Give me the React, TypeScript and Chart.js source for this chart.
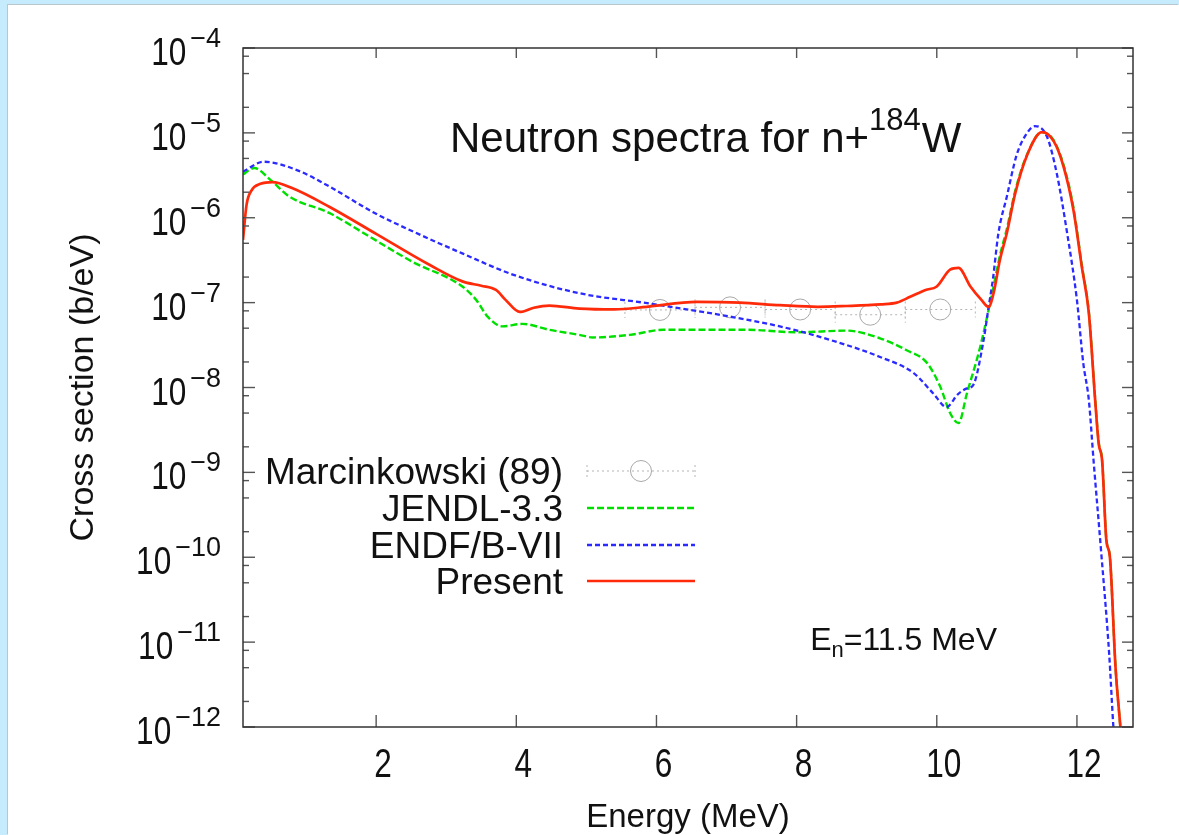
import React, { useEffect, useRef } from "react";
import { Chart, registerables } from "chart.js";

Chart.register(...registerables);

// ---------- data ----------
const presentE = [0.1, 0.15, 0.22, 0.35, 0.52, 0.8, 1.33, 2.0, 2.76, 3.23, 3.5, 3.71, 3.85, 4.05, 4.25, 4.47, 4.9, 5.4, 5.86, 6.57, 7.19, 7.76, 8.3, 8.71, 9.2, 9.43, 9.62, 9.84, 10.0, 10.19, 10.31, 10.48, 10.64, 10.74, 10.81, 10.9, 11.0, 11.12, 11.29, 11.5, 11.67, 11.81, 11.95, 12.07, 12.17, 12.26, 12.31, 12.36, 12.42, 12.47, 12.55, 12.62, 12.7];
const presentY = [5.5e-7, 1.41e-6, 2.09e-6, 2.51e-6, 2.63e-6, 2.24e-6, 1.35e-6, 6.46e-7, 2.79e-7, 1.78e-7, 1.58e-7, 1.41e-7, 1.07e-7, 7.76e-8, 8.71e-8, 9.23e-8, 8.51e-8, 8.32e-8, 8.91e-8, 1.02e-7, 1.0e-7, 9.33e-8, 8.91e-8, 9.12e-8, 9.55e-8, 1.0e-7, 1.17e-7, 1.41e-7, 1.55e-7, 2.45e-7, 2.57e-7, 1.55e-7, 1.07e-7, 8.91e-8, 1.29e-7, 3.16e-7, 6.61e-7, 1.95e-6, 5.5e-6, 1.02e-5, 7.94e-6, 3.98e-6, 1.23e-6, 2.63e-7, 7.5e-8, 7.08e-9, 2.19e-9, 1.35e-9, 1.58e-10, 1.01e-10, 5.13e-12, 1.0e-12, 1.58e-13];

const jendlE = [0.1, 0.26, 0.5, 0.76, 1.33, 1.9, 2.52, 3.23, 3.43, 3.59, 3.8, 4.09, 4.47, 4.9, 5.09, 5.62, 6.1, 7.29, 8.0, 8.71, 9.19, 9.57, 9.86, 10.05, 10.19, 10.31, 10.43, 10.62, 10.8, 10.9, 11.0, 11.12, 11.29, 11.5, 11.67, 11.81, 11.95, 12.07, 12.17, 12.26, 12.31, 12.36, 12.42, 12.47, 12.55, 12.62, 12.7];
const jendlY = [3.24e-6, 3.85e-6, 2.75e-6, 1.78e-6, 1.14e-6, 6.03e-7, 3.02e-7, 1.55e-7, 1.07e-7, 6.84e-8, 5.25e-8, 5.62e-8, 4.79e-8, 4.17e-8, 3.89e-8, 4.17e-8, 4.79e-8, 4.79e-8, 4.47e-8, 4.68e-8, 3.8e-8, 2.75e-8, 1.95e-8, 1.02e-8, 5.01e-9, 3.8e-9, 8.51e-9, 3.02e-8, 1.41e-7, 3.55e-7, 7.41e-7, 2.09e-6, 5.62e-6, 1.02e-5, 8.13e-6, 4.17e-6, 1.32e-6, 2.75e-7, 7.76e-8, 7.41e-9, 2.29e-9, 1.38e-9, 1.62e-10, 1.02e-10, 5.25e-12, 1.0e-12, 1.58e-13];

const endfE = [0.1, 0.4, 0.86, 1.33, 1.95, 2.52, 3.23, 3.95, 4.9, 5.9, 7.05, 7.76, 8.48, 9.19, 9.67, 9.95, 10.14, 10.3, 10.43, 10.52, 10.66, 10.74, 10.8, 10.88, 11.0, 11.14, 11.29, 11.4, 11.57, 11.71, 11.86, 12.0, 12.09, 12.17, 12.24, 12.34, 12.46, 12.52, 12.6];
const endfY = [3.51e-6, 4.57e-6, 3.67e-6, 2.34e-6, 1.17e-6, 6.92e-7, 3.8e-7, 2.14e-7, 1.29e-7, 9.77e-8, 6.84e-8, 5.25e-8, 3.63e-8, 2.29e-8, 1.48e-8, 8.51e-9, 5.89e-9, 8.32e-9, 9.77e-9, 1.07e-8, 3.31e-8, 8.91e-8, 1.86e-7, 6.61e-7, 1.78e-6, 5.5e-6, 1.0e-5, 1.2e-5, 9.12e-6, 3.39e-6, 6.61e-7, 1.07e-7, 1.95e-8, 7.08e-9, 1.29e-9, 1.32e-10, 7.24e-12, 1.0e-12, 1.26e-13];

const markE = [6.05, 7.05, 8.05, 9.05, 10.05];
const markY = [8.2e-8, 8.8e-8, 8.3e-8, 7.2e-8, 8.3e-8];
const markDE = [0.5, 0.5, 0.5, 0.5, 0.5];

const seriesLabels = ["Marcinkowski (89)", "JENDL-3.3", "ENDF/B-VII", "Present"];

const xTickValues = [2, 4, 6, 8, 10, 12];
const xTickLabels = ["2", "4", "6", "8", "10", "12"];
const yTickBase = "10";
const yTickExponents = [-12, -11, -10, -9, -8, -7, -6, -5, -4];
const yMinorMantissas = [2, 5, 8];

const titleMain = "Neutron spectra for n+";
const titleSup = "184";
const titleEnd = "W";
const energyLabel = ["E", "n", "=11.5 MeV"];
const xAxisTitle = "Energy (MeV)";
const yAxisTitle = "Cross section (b/eV)";

// ---------- style ----------
const FONT = '"Liberation Sans", Arial, Helvetica, sans-serif';
const TEXT = "#111";
const RED = "#ff2a0a";
const GREEN = "#00e000";
const BLUE = "#2b2bff";
const GREY = "#a8a8a8";

function pts(xs: number[], ys: number[]) {
  return xs.map((x, i) => ({ x, y: ys[i] }));
}

function drawText(ctx: CanvasRenderingContext2D, text: string, x: number, y: number, size: number, sx: number, align: "left" | "center" | "right") {
  ctx.save();
  ctx.font = `${size}px ${FONT}`;
  const w = ctx.measureText(text).width * sx;
  let left = x;
  if (align === "center") left = x - w / 2;
  else if (align === "right") left = x - w;
  ctx.translate(left, y);
  ctx.scale(sx, 1);
  ctx.textAlign = "left";
  ctx.textBaseline = "alphabetic";
  ctx.fillText(text, 0, 0);
  ctx.restore();
  return w;
}

function line(ctx: CanvasRenderingContext2D, x1: number, y1: number, x2: number, y2: number) {
  ctx.beginPath();
  ctx.moveTo(x1, y1);
  ctx.lineTo(x2, y2);
  ctx.stroke();
}

const errorBarPlugin = {
  id: "errorBars",
  beforeDatasetsDraw(chart: any) {
    const { ctx, scales } = chart;
    const xs = scales.x;
    const ys = scales.y;
    ctx.save();
    ctx.strokeStyle = "#b4b4b4";
    ctx.lineWidth = 1;
    ctx.setLineDash([2, 3]);
    markE.forEach((e, i) => {
      const x1 = xs.getPixelForValue(e - markDE[i]);
      const x2 = xs.getPixelForValue(e + markDE[i]);
      const py = ys.getPixelForValue(markY[i]);
      line(ctx, x1, py, x2, py);
      line(ctx, x1, py - 8, x1, py + 8);
      line(ctx, x2, py - 8, x2, py + 8);
    });
    ctx.restore();
  },
};

const framePlugin = {
  id: "frame",
  afterDatasetsDraw(chart: any) {
    const { ctx, chartArea: a, scales } = chart;
    const xs = scales.x;
    const ys = scales.y;
    ctx.save();
    ctx.strokeStyle = "#555";
    ctx.lineWidth = 1.4;
    ctx.setLineDash([]);
    xTickValues.forEach((v) => {
      const px = xs.getPixelForValue(v);
      line(ctx, px, a.bottom, px, a.bottom - 12);
      line(ctx, px, a.top, px, a.top + 10);
    });
    yTickExponents.forEach((e) => {
      const py = ys.getPixelForValue(Math.pow(10, e));
      line(ctx, a.left, py, a.left + 12, py);
      line(ctx, a.right, py, a.right - 11, py);
      yMinorMantissas.forEach((m) => {
        const v = m * Math.pow(10, e);
        if (v > ys.max || v < ys.min) return;
        const pm = ys.getPixelForValue(v);
        line(ctx, a.left, pm, a.left + 6, pm);
        line(ctx, a.right, pm, a.right - 6, pm);
      });
    });
    ctx.strokeStyle = "#333";
    ctx.lineWidth = 1.5;
    ctx.strokeRect(a.left, a.top, a.right - a.left, a.bottom - a.top);
    ctx.restore();
  },
  afterDraw(chart: any) {
    const { ctx, chartArea: a, scales } = chart;
    const xs = scales.x;
    const ys = scales.y;
    ctx.save();
    ctx.fillStyle = TEXT;

    // x tick labels
    xTickValues.forEach((v, i) => {
      const px = xs.getPixelForValue(v) + 7;
      drawText(ctx, xTickLabels[i], px, a.bottom + 50, 41, 0.77, "center");
    });

    // y tick labels 10^n
    yTickExponents.forEach((e) => {
      const py = ys.getPixelForValue(Math.pow(10, e));
      const right = a.left - 22;
      ctx.font = `27px ${FONT}`;
      const sup = "\u2212" + Math.abs(e);
      const wSup = ctx.measureText(sup).width;
      const supLeft = right - wSup;
      drawText(ctx, sup, supLeft, py - 1, 27, 1, "left");
      drawText(ctx, yTickBase, supLeft - 4, py + 17, 38, 0.83, "right");
    });

    // axis titles
    drawText(ctx, xAxisTitle, (a.left + a.right) / 2, a.bottom + 100, 33, 1, "center");
    ctx.save();
    ctx.translate(a.left - 150, (a.top + a.bottom) / 2);
    ctx.rotate(-Math.PI / 2);
    drawText(ctx, yAxisTitle, 0, 0, 34, 1, "center");
    ctx.restore();

    // title
    let tx = a.left + 207;
    const tBase = a.top + 104;
    tx += drawText(ctx, titleMain, tx, tBase, 42, 1, "left");
    tx += drawText(ctx, titleSup, tx, tBase - 22, 31, 1, "left");
    drawText(ctx, titleEnd, tx + 1, tBase, 42, 1, "left");

    // energy label
    ctx.font = `32px ${FONT}`;
    const wE = ctx.measureText(energyLabel[0]).width;
    const wRest = ctx.measureText(energyLabel[2]).width;
    ctx.font = `22px ${FONT}`;
    const wSub = ctx.measureText(energyLabel[1]).width;
    const eRight = a.left + 754;
    const eBase = a.top + 602;
    let ex = eRight - (wE + wSub + wRest);
    ex += drawText(ctx, energyLabel[0], ex, eBase, 32, 1, "left");
    ex += drawText(ctx, energyLabel[1], ex, eBase + 7, 22, 1, "left");
    drawText(ctx, energyLabel[2], ex, eBase, 32, 1, "left");

    // legend
    const ds = chart.data.datasets;
    const textRight = a.left + 320;
    const lx1 = a.left + 344;
    const lx2 = a.left + 452;
    const rowY = [a.top + 423, a.top + 460, a.top + 497, a.top + 533];
    ds.forEach((d: any, i: number) => {
      const y = rowY[i];
      ctx.fillStyle = TEXT;
      drawText(ctx, d.label, textRight, y + 13, 37, 1, "right");
      ctx.save();
      if (i === 0) {
        ctx.strokeStyle = "#b4b4b4";
        ctx.lineWidth = 1;
        ctx.setLineDash([2, 3]);
        line(ctx, lx1, y, lx2, y);
        line(ctx, lx1, y - 6, lx1, y + 6);
        line(ctx, lx2, y - 6, lx2, y + 6);
        ctx.setLineDash([]);
        ctx.strokeStyle = d.borderColor;
        ctx.beginPath();
        ctx.arc((lx1 + lx2) / 2, y, d.pointRadius, 0, Math.PI * 2);
        ctx.stroke();
      } else {
        ctx.strokeStyle = d.borderColor;
        ctx.lineWidth = d.borderWidth;
        ctx.setLineDash(d.borderDash || []);
        line(ctx, lx1, y, lx2, y);
      }
      ctx.restore();
    });
    ctx.restore();
  },
};

export default function App() {
  const canvasRef = useRef<HTMLCanvasElement | null>(null);

  useEffect(() => {
    if (!canvasRef.current) return;
    const chart = new Chart(canvasRef.current, {
      type: "line",
      data: {
        datasets: [
          {
            label: seriesLabels[0],
            data: pts(markE, markY),
            showLine: false,
            pointStyle: "circle",
            pointRadius: 10.5,
            pointBorderWidth: 1,
            borderColor: GREY,
            backgroundColor: "rgba(0,0,0,0)",
            pointBackgroundColor: "rgba(0,0,0,0)",
            pointBorderColor: GREY,
            order: 3,
          } as any,
          {
            label: seriesLabels[1],
            data: pts(jendlE, jendlY),
            borderColor: GREEN,
            borderWidth: 2.4,
            borderDash: [7, 3],
            pointRadius: 0,
            cubicInterpolationMode: "monotone",
            fill: false,
            clip: 0,
            order: 2,
          } as any,
          {
            label: seriesLabels[2],
            data: pts(endfE, endfY),
            borderColor: BLUE,
            borderWidth: 2.3,
            borderDash: [5, 3],
            pointRadius: 0,
            cubicInterpolationMode: "monotone",
            fill: false,
            clip: 0,
            order: 1,
          } as any,
          {
            label: seriesLabels[3],
            data: pts(presentE, presentY),
            borderColor: RED,
            borderWidth: 2.7,
            pointRadius: 0,
            cubicInterpolationMode: "monotone",
            fill: false,
            clip: 0,
            order: 0,
          } as any,
        ],
      },
      options: {
        animation: false,
        responsive: false,
        devicePixelRatio: 1,
        layout: { padding: { left: 235, right: 46, top: 43, bottom: 108 } },
        scales: {
          x: { type: "linear", min: 0.1, max: 12.8, display: false },
          y: { type: "logarithmic", min: 1e-12, max: 1e-4, display: false },
        },
        plugins: {
          legend: { display: false },
          tooltip: { enabled: false },
        },
        events: [],
      } as any,
      plugins: [errorBarPlugin, framePlugin],
    });
    return () => chart.destroy();
  }, []);

  return (
    <div style={{ position: "fixed", inset: 0, background: "#c6ebfc", overflow: "hidden" }}>
      <div
        style={{
          position: "absolute",
          left: 8,
          top: 5,
          right: 0,
          bottom: 0,
          background: "#ffffff",
          boxShadow: "-1px -1px 0 0 #b9c6cc",
        }}
      >
        <canvas ref={canvasRef} width={1171} height={830} style={{ display: "block", width: 1171, height: 830 }} />
      </div>
    </div>
  );
}
